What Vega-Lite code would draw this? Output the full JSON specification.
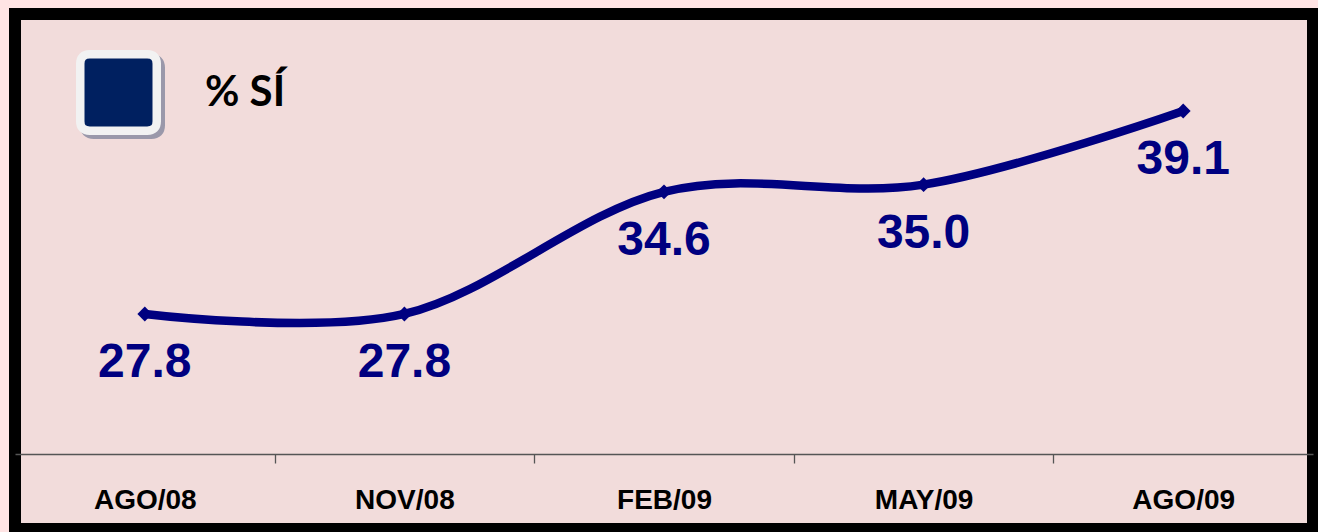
{
  "$schema": "https://vega.github.io/schema/vega-lite/v6.json",
  "width": 1298,
  "height": 515,
  "autosize": {"type": "none"},
  "padding": {"left": 15, "top": 14, "right": 5, "bottom": 3},
  "background": "#FFE4E4",
  "config": {"view": {"fill": "#F2DCDB", "stroke": "#000000", "strokeWidth": 12}},
  "data": {
    "values": [
      {"mes": "AGO/08", "valor": 27.8, "serie": "% SÍ"},
      {"mes": "NOV/08", "valor": 27.8, "serie": "% SÍ"},
      {"mes": "FEB/09", "valor": 34.6, "serie": "% SÍ"},
      {"mes": "MAY/09", "valor": 35.0, "serie": "% SÍ"},
      {"mes": "AGO/09", "valor": 39.1, "serie": "% SÍ"}
    ]
  },
  "encoding": {
    "x": {
      "field": "mes",
      "type": "ordinal",
      "sort": null,
      "bandPosition": 0.5,
      "scale": {"type": "band", "paddingInner": 0, "paddingOuter": 0},
      "axis": {
        "title": null,
        "orient": "bottom",
        "offset": -75,
        "grid": false,
        "domainColor": "#555555",
        "domainWidth": 1.3,
        "tickColor": {"condition": {"test": "datum.value === 'AGO/09' || datum.extra", "value": "transparent"}, "value": "#555555"},
        "tickSize": 9,
        "tickWidth": 1.3,
        "tickBand": "extent",
        "labelAngle": 0,
        "labelFont": "Liberation Sans",
        "labelFontSize": 28,
        "labelFontWeight": "bold",
        "labelColor": "#000000",
        "labelBaseline": "alphabetic",
        "labelPadding": 45
      }
    },
    "y": {
      "field": "valor",
      "type": "quantitative",
      "scale": {"domain": [15.83, 44.5], "nice": false, "zero": false},
      "axis": null
    }
  },
  "resolve": {"scale": {"fill": "independent", "stroke": "independent"}, "legend": {"fill": "independent", "stroke": "independent"}},
  "layer": [
    {
      "mark": {"type": "point", "shape": "square", "size": 0, "filled": false},
      "encoding": {
        "stroke": {
          "field": "serie",
          "type": "nominal",
          "scale": {"range": ["#9A98AA"]},
          "legend": {
            "orient": "none",
            "legendX": 65,
            "legendY": 40,
            "title": null,
            "padding": 0,
            "symbolType": "M-0.75,-1H0.75Q1,-1 1,-0.75V0.75Q1,1 0.75,1H-0.75Q-1,1 -1,0.75V-0.75Q-1,-1 -0.75,-1Z",
            "symbolSize": 5852,
            "symbolStrokeWidth": 8.5,
            "symbolFillColor": "#9A98AA",
            "symbolOpacity": 1,
            "labelExpr": "''",
            "labelColor": "transparent",
            "labelFontSize": 36,
            "labelOffset": 44
          }
        }
      }
    },
    {
      "mark": {"type": "point", "shape": "square", "size": 0, "filled": true},
      "encoding": {
        "fill": {
          "field": "serie",
          "type": "nominal",
          "scale": {"range": ["#002060"]},
          "legend": {
            "orient": "none",
            "legendX": 61,
            "legendY": 36,
            "title": null,
            "padding": 0,
            "symbolType": "M-0.75,-1H0.75Q1,-1 1,-0.75V0.75Q1,1 0.75,1H-0.75Q-1,1 -1,0.75V-0.75Q-1,-1 -0.75,-1Z",
            "symbolSize": 5852,
            "symbolStrokeWidth": 8.5,
            "symbolStrokeColor": "#F2F2F2",
            "symbolOpacity": 1,
            "labelFont": "Lato",
            "labelFontSize": 42,
            "labelFontWeight": "bold",
            "labelColor": "#000000",
            "labelOffset": 44
          }
        }
      }
    },
    {
      "mark": {"type": "line", "interpolate": "cardinal", "strokeWidth": 8.5, "strokeCap": "round", "color": "#000080"}
    },
    {
      "mark": {"type": "point", "shape": "diamond", "filled": true, "size": 220, "color": "#000080", "opacity": 1}
    },
    {
      "mark": {"type": "text", "dy": 63, "baseline": "alphabetic", "align": "center", "font": "Liberation Sans", "fontSize": 48, "fontWeight": "bold", "color": "#000080"},
      "encoding": {"text": {"field": "valor", "type": "quantitative", "format": ".1f"}}
    }
  ]
}
